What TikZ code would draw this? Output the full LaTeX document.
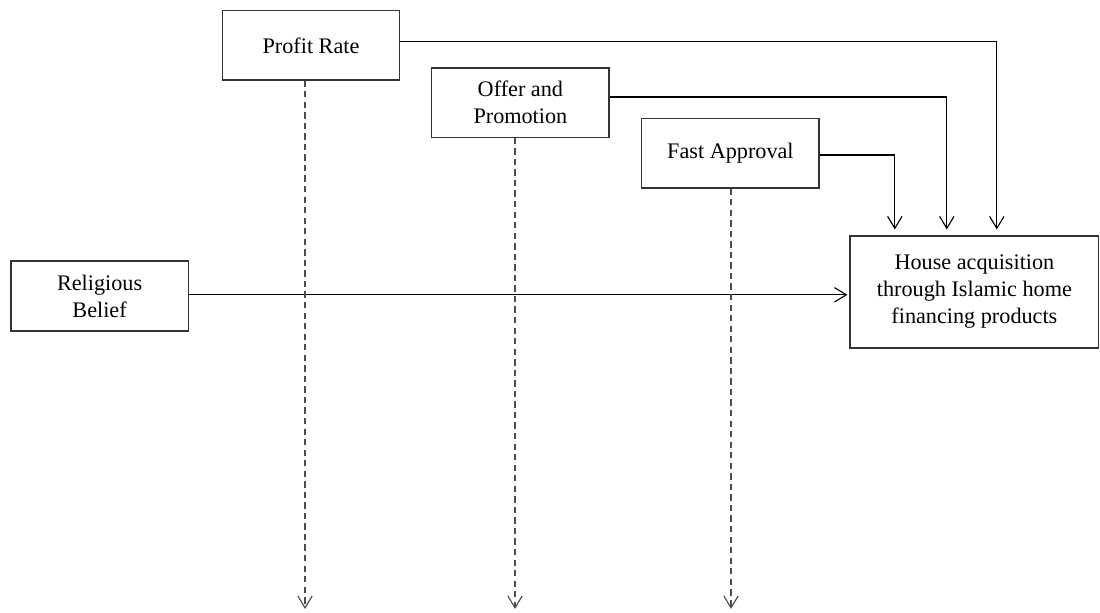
\documentclass[tikz,border=0pt]{standalone}
\usepackage{fontspec}
\setmainfont{Liberation Serif}
\usetikzlibrary{arrows.meta}

\begin{document}
\begin{tikzpicture}[line width=0.8pt,
    >={Straight Barb[length=3mm,width=3.6mm]},
    factor/.style={draw=black!80,minimum width=4.43cm,minimum height=1.73cm,
        align=center,font=\fontsize{15.8}{19.2}\selectfont},
    link/.style={->,shorten >=1.5mm},
    dashlink/.style={->,black!70,dash pattern=on 4.5pt off 3pt}]
            \useasboundingbox (0,0) rectangle (27.5,15.325);
            % factors
            \node[factor] (profit) at (7.775,14.19) {Profit Rate};
            \node[factor] (offer) at (13.01,12.76) {Offer and\\Promotion};
            \node[factor] (fast) at (18.26,11.49) {Fast Approval};
            \node[factor,minimum height=1.75cm] (belief) at (2.49,7.925) {Religious\\Belief};
            \node[factor,minimum width=6.22cm,minimum height=2.8cm] (house) at (24.36,8.025)
                {House acquisition\\through Islamic home\\financing products};
            % free ends of the dashed lines
            \coordinate (pend) at (7.625,0.1);
            \coordinate (oend) at (12.875,0.1);
            \coordinate (fend) at (18.275,0.1);
            % solid connectors
            \draw[link] ([yshift=0.09cm]profit.east) -| ([xshift=0.56cm]house.north);
            \draw[link] ([yshift=0.14cm]offer.east) -| ([xshift=-0.69cm]house.north);
            \draw[link] ([yshift=-0.04cm]fast.east) -| ([xshift=-1.99cm]house.north);
            \draw[->,shorten >=0.5mm] ([yshift=0.03cm]belief.east) -- ([yshift=0.03cm]belief.east -| house.west);
            % dashed connectors
            \draw[dashlink] (profit.south -| pend) -- (pend);
            \draw[dashlink] (offer.south -| oend) -- (oend);
            \draw[dashlink] (fast.south -| fend) -- (fend);
\end{tikzpicture}
\end{document}
